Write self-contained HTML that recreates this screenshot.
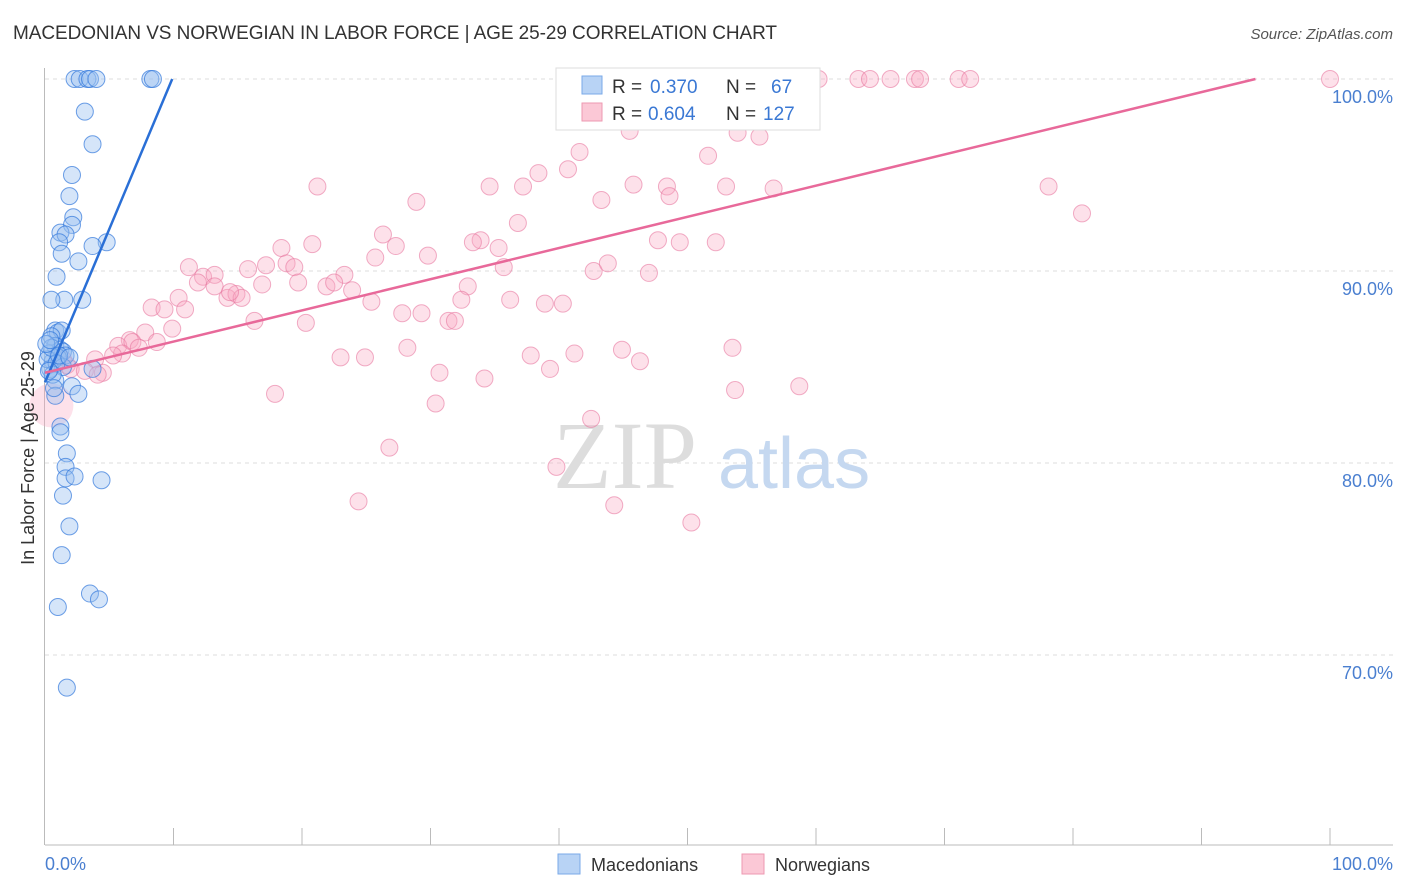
<!DOCTYPE html>
<html><head><meta charset="utf-8"><style>
body{margin:0;background:#fff;font-family:"Liberation Sans",sans-serif;}
svg{display:block}
</style></head><body>
<svg id="chart" width="1406" height="892" xmlns="http://www.w3.org/2000/svg">
<text x="13" y="39" font-size="19" fill="#333" textLength="764">MACEDONIAN VS NORWEGIAN IN LABOR FORCE | AGE 25-29 CORRELATION CHART</text>
<text x="1393" y="39" font-size="15" fill="#555" text-anchor="end" font-style="italic">Source: ZipAtlas.com</text>
<g id="grid"></g>
<text x="553" y="488" font-size="96" fill="#ddd" font-family="Liberation Serif,serif">ZIP</text>
<text x="718" y="488" font-size="72" fill="#c5d8f0">atlas</text>
<g id="pts"></g>
<g id="lines"></g>
<text transform="translate(34,458) rotate(-90)" font-size="18" fill="#333" text-anchor="middle">In Labor Force | Age 25-29</text>
<g>
<rect x="556" y="68" width="264" height="62" fill="#fff" stroke="#ddd"/>
<rect x="582" y="76" width="20" height="18" fill="#b8d3f5" stroke="#7aaae8"/>
<text x="612" y="93" font-size="19" fill="#333">R = </text><text x="650" y="93" font-size="19" fill="#3a78d4">0.370</text>
<text x="726" y="93" font-size="19" fill="#333">N = </text><text x="771" y="93" font-size="19" fill="#3a78d4">67</text>
<rect x="582" y="103" width="20" height="18" fill="#fbc8d6" stroke="#ee99b1"/>
<text x="612" y="120" font-size="19" fill="#333">R = </text><text x="648" y="120" font-size="19" fill="#3a78d4">0.604</text>
<text x="726" y="120" font-size="19" fill="#333">N = </text><text x="763" y="120" font-size="19" fill="#3a78d4">127</text>
</g>
<g>
<rect x="558" y="854" width="22" height="20" fill="#b8d3f5" stroke="#7aaae8"/>
<text x="591" y="871" font-size="18" fill="#333">Macedonians</text>
<rect x="742" y="854" width="22" height="20" fill="#fbc8d6" stroke="#ee99b1"/>
<text x="775" y="871" font-size="18" fill="#333">Norwegians</text>
</g>
</svg>
<script>
const yTicks=[100,90,80,70];
const xTickLabels=["0.0%","100.0%"];
const blueX=[2.3,2.7,3.3,3.5,4.0,8.2,8.4,3.1,3.7,2.1,1.9,2.2,2.1,1.2,1.6,1.1,1.3,4.8,3.7,2.6,0.9,1.5,0.5,2.9,0.8,1.0,1.3,0.5,0.8,1.2,1.4,1.6,1.0,0.6,0.4,1.4,3.7,0.8,2.1,2.6,0.8,1.2,1.2,1.7,1.6,1.6,2.3,4.4,1.4,1.9,1.3,3.5,4.2,1.0,1.7,0.3,0.2,0.5,0.9,1.1,0.1,0.4,0.6,0.7,1.9,0.3];
const blueY=[100,100,100,100,100,100,100,98.3,96.6,95.0,93.9,92.8,92.4,92.0,91.9,91.5,90.9,91.5,91.3,90.5,89.7,88.5,88.5,88.5,86.9,86.8,86.9,86.6,86.1,85.9,85.8,85.6,85.5,85.3,84.9,85.0,84.9,84.3,84.0,83.6,83.5,81.9,81.6,80.5,79.8,79.2,79.3,79.1,78.3,76.7,75.2,73.2,72.9,72.5,68.3,85.7,85.4,86.0,85.2,85.6,86.2,86.4,84.6,83.9,85.5,84.8];
const pinkX=[100,55.6,56.4,58.0,60.2,63.3,64.2,65.8,67.7,68.1,71.1,72.0,51.0,51.4,45.4,52.5,53.9,55.6,45.5,41.6,51.6,40.7,38.4,34.6,37.2,45.8,48.4,53.0,56.7,21.2,43.3,48.6,28.9,78.1,80.7,36.8,26.3,33.9,33.3,35.3,47.7,49.4,52.2,20.8,18.4,27.3,29.8,25.7,35.7,11.2,42.7,43.8,47.0,15.8,17.2,18.8,19.4,12.3,13.2,11.9,23.3,19.7,16.9,13.2,14.2,14.9,15.3,14.4,21.9,22.5,23.9,32.9,32.4,25.4,36.2,38.9,40.3,8.3,9.3,10.4,10.9,16.3,20.3,27.8,29.3,31.4,31.9,9.9,7.8,6.6,5.7,6.8,7.3,8.7,6.0,5.3,3.9,1.4,1.7,2.0,3.1,4.5,4.1,28.2,23.0,24.9,37.8,41.2,44.9,46.3,53.5,39.3,30.7,34.2,53.7,58.7,17.9,30.4,42.5,26.8,39.8,24.4,44.3,50.3];
const pinkY=[100,100,100,100,100,100,100,100,100,100,100,100,100,100,98.3,98.4,97.2,97.0,97.3,96.2,96.0,95.3,95.1,94.4,94.4,94.5,94.4,94.4,94.3,94.4,93.7,93.9,93.6,94.4,93.0,92.5,91.9,91.6,91.5,91.2,91.6,91.5,91.5,91.4,91.2,91.3,90.8,90.7,90.2,90.2,90.0,90.4,89.9,90.1,90.3,90.4,90.2,89.7,89.8,89.4,89.8,89.4,89.3,89.2,88.6,88.8,88.6,88.9,89.2,89.4,89.0,89.2,88.5,88.4,88.5,88.3,88.3,88.1,88.0,88.6,88.0,87.4,87.3,87.8,87.8,87.4,87.4,87.0,86.8,86.4,86.1,86.3,86.0,86.3,85.7,85.6,85.4,85.4,85.1,84.9,84.8,84.7,84.6,86.0,85.5,85.5,85.6,85.7,85.9,85.3,86.0,84.9,84.7,84.4,83.8,84.0,83.6,83.1,82.3,80.8,79.8,78.0,77.8,76.9];
const bigPinkX=[0.5], bigPinkY=[83.0];
const blueLine=[[0,84.2],[9.9,100]];
const pinkLine=[[0,84.7],[94.2,100]];
const X0=45,X1=1330,Y100=79,PXP=19.2;
const sx=v=>X0+(X1-X0)*v/100;
const sy=v=>Y100+(100-v)*PXP;
const NS="http://www.w3.org/2000/svg";
function mk(tag,attrs,parent){const e=document.createElementNS(NS,tag);for(const k in attrs)e.setAttribute(k,attrs[k]);parent.appendChild(e);return e;}
const grid=document.getElementById('grid');
yTicks.forEach(t=>{
 const l=mk('line',{x1:45,x2:1393,y1:sy(t),y2:sy(t),stroke:'#ddd','stroke-dasharray':'4,4'},grid);
 
 
 const tx=mk('text',{x:1393,y:sy(t)+24,'font-size':18,fill:'#4a7fd0','text-anchor':'end'},grid);
 tx.textContent=t.toFixed(1)+'%';
 
 
});
const ax=mk('line',{x1:44.5,x2:44.5,y1:68,y2:845,stroke:'#bbb'},grid);


const bx=mk('line',{x1:45,x2:1393,y1:845,y2:845,stroke:'#bbb'},grid);


for(let i=1;i<=10;i++){const t=mk('line',{x1:sx(i*10),x2:sx(i*10),y1:828,y2:845,stroke:'#bbb'},grid);
 
 }
xTickLabels.forEach((s,i)=>{const t=mk('text',{x:i?1393:45,y:870,'font-size':18,fill:'#4a7fd0','text-anchor':i?'end':'start'},grid);t.textContent=s;
 
 });
const pts=document.getElementById('pts');
pinkX.forEach((x,i)=>{const c=mk('circle',{cx:sx(x),cy:sy(pinkY[i]),r:8.5,fill:'rgba(248,170,195,0.35)',stroke:'rgba(232,120,160,0.6)','stroke-width':1},pts);
 
 });
bigPinkX.forEach((x,i)=>{const c=mk('circle',{cx:sx(x),cy:sy(bigPinkY[i]),r:22,fill:'rgba(248,170,195,0.35)'},pts);
 
 });
blueX.forEach((x,i)=>{const c=mk('circle',{cx:sx(x),cy:sy(blueY[i]),r:8.5,fill:'rgba(150,190,240,0.4)',stroke:'rgba(50,120,220,0.7)','stroke-width':1},pts);
 
 });
const lines=document.getElementById('lines');
const bl=mk('line',{x1:sx(blueLine[0][0]),y1:sy(blueLine[0][1]),x2:sx(blueLine[1][0]),y2:sy(blueLine[1][1]),stroke:'#2a6fd6','stroke-width':2.5},lines);


const pl=mk('line',{x1:sx(pinkLine[0][0]),y1:sy(pinkLine[0][1]),x2:sx(pinkLine[1][0]),y2:sy(pinkLine[1][1]),stroke:'#e8699a','stroke-width':2.5},lines);


</script>
</body></html>
